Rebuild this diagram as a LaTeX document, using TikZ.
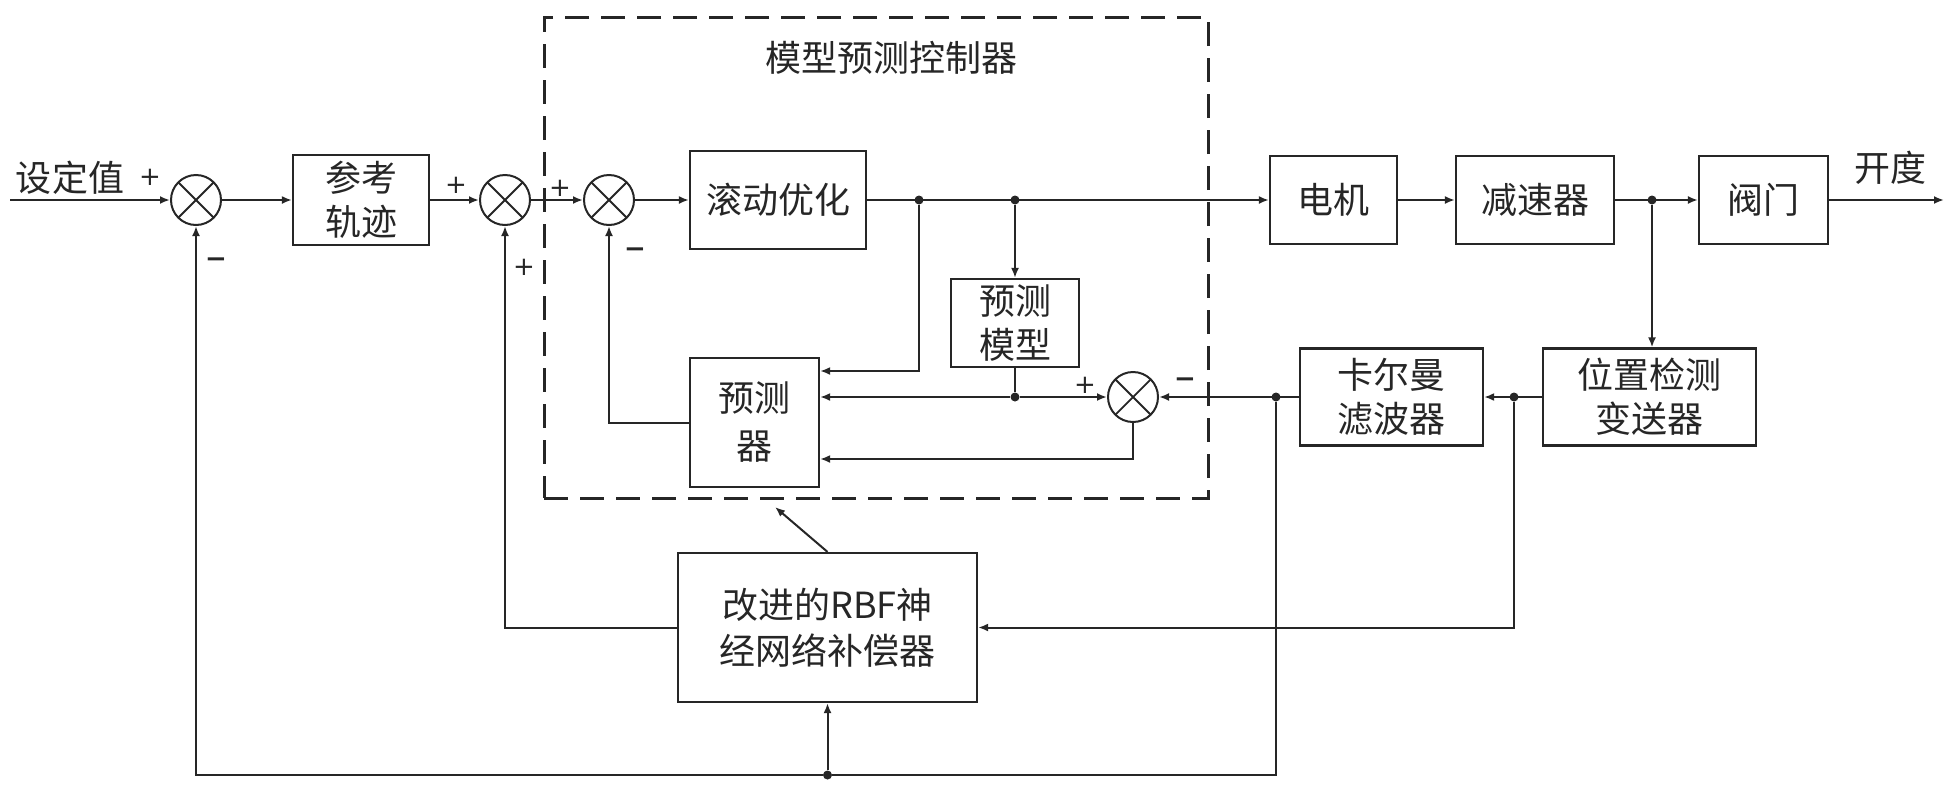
\documentclass[tikz,border=0pt]{standalone}
\usepackage{fontspec}
\setmainfont{Noto Sans CJK SC}
\newfontfamily\signfont{DejaVu Sans}
\usetikzlibrary{arrows.meta}
\definecolor{ink}{HTML}{262626}
\begin{document}
\begin{tikzpicture}[x=0.5pt,y=-0.5pt,
  every node/.style={text=ink},
  blk/.style={draw=ink, line width=1.1pt, align=center, inner sep=0pt,
    font=\fontsize{18}{22}\selectfont},
  sumc/.style={circle, draw=ink, line width=1pt, minimum size=25pt, inner sep=0pt,
    path picture={\draw[ink, line width=0.9pt]
      (path picture bounding box.north west) -- (path picture bounding box.south east)
      (path picture bounding box.north east) -- (path picture bounding box.south west);}},
  dot/.style={circle, fill=ink, minimum size=4.5pt, inner sep=0pt},
  arr/.style={draw=ink, line width=1pt, -{Latex[length=5pt,width=4pt]}},
  ln/.style={draw=ink, line width=1pt},
  sign/.style={font=\signfont\fontsize{13}{13}\selectfont, inner sep=0pt},
  lbl/.style={font=\fontsize{18}{22}\selectfont, inner sep=0pt},
  mpcbox/.style={draw=ink, line width=1.5pt, dash pattern=on 12pt off 6pt, inner sep=0pt}
]
\useasboundingbox (0,0) rectangle (1958,793);

% dashed MPC box
\node[mpcbox, minimum width=332pt, minimum height=240.5pt] (mpc) at (876,257.5) {};
\node[lbl] (mpct) at (891,58) {模型预测控制器};

% blocks
\node[blk, minimum width=68pt, minimum height=45pt] (ref) at (361,200) {参考\\轨迹};
\node[blk, minimum width=88pt, minimum height=49pt] (roll) at (778,200) {滚动优化};
\node[blk, minimum width=64pt, minimum height=44pt] (pm) at (1015,323) {预测\\模型};
\node[blk, minimum width=64.5pt, minimum height=64.5pt, font=\fontsize{18}{24}\selectfont] (pred) at (754.5,422.5) {预测\\器};
\node[blk, minimum width=63.5pt, minimum height=44pt] (motor) at (1333.5,200) {电机};
\node[blk, minimum width=79pt, minimum height=44pt] (red) at (1535,200) {减速器};
\node[blk, minimum width=64.5pt, minimum height=44pt] (valve) at (1763.5,200) {阀门};
\node[blk, minimum width=106.5pt, minimum height=48.5pt] (pos) at (1649.5,397) {位置检测\\变送器};
\node[blk, minimum width=91.5pt, minimum height=48.5pt] (kal) at (1391.5,397) {卡尔曼\\滤波器};
\node[blk, minimum width=149.5pt, minimum height=74.5pt, font=\fontsize{18}{23}\selectfont] (rbf) at (827.5,627.5) {改进的RBF神\\经网络补偿器};

% summing junctions
\node[sumc] (s1) at (196,200) {};
\node[sumc] (s2) at (505,200) {};
\node[sumc] (s3) at (609,200) {};
\node[sumc] (s4) at (1133,397) {};

% dots
\node[dot] (d1) at (919,200) {};
\node[dot] (d2) at (1015,200) {};
\node[dot] (d3) at (1015,397) {};
\node[dot] (d4) at (1652,200) {};
\node[dot] (d5) at (1514,397) {};
\node[dot] (d6) at (1276,397) {};
\node[dot] (bot) at (827.5,775) {};

% free ends
\coordinate (in) at (10,200);
\coordinate (out) at (1944,200);
\coordinate (k1) at (919,371);
\coordinate (k2) at (1133,459);
\coordinate (mpcin) at (775,507);

% labels
\node[lbl] (setv) at (70,178) {设定值};
\node[lbl] (opn) at (1890,168) {开度};
\node[sign] (p1) at (150,177) {+};
\node[sign, font=\signfont\bfseries\fontsize{13}{13}\selectfont] (m1) at (216,263) {−};
\node[sign] (p2) at (456,185) {+};
\node[sign] (p3) at (524,267) {+};
\node[sign] (p4) at (560,188) {+};
\node[sign, font=\signfont\bfseries\fontsize{13}{13}\selectfont] (m3) at (635,253) {−};
\node[sign] (p5) at (1085,385) {+};
\node[sign, font=\signfont\bfseries\fontsize{13}{13}\selectfont] (m4) at (1185,383) {−};

% connectors
\draw[arr] (in) -- (s1.west);
\draw[arr] (s1.east) -- (ref.west);
\draw[arr] (ref.east) -- (s2.west);
\draw[arr] (s2.east) -- (s3.west);
\draw[arr] (s3.east) -- (roll.west);
\draw[arr] (roll.east) -- (motor.west);
\draw[arr] (d2) -- (pm.north);
\draw[arr] (d1) -- (k1) -- (k1 -| pred.east);
\draw[ln] (pm.south) -- (d3);
\draw[arr] (d3) -- (d3 -| pred.east);
\draw[arr] (d3) -- (s4.west);
\draw[arr] (s4.south) -- (k2) -- (k2 -| pred.east);
\draw[arr] (pred.west) -| (s3.south);
\draw[arr] (motor.east) -- (red.west);
\draw[arr] (red.east) -- (valve.west);
\draw[arr] (valve.east) -- (out);
\draw[arr] (d4) -- (d4 |- pos.north);
\draw[arr] (pos.west) -- (kal.east);
\draw[arr] (kal.west) -- (s4.east);
\draw[arr] (d5) |- (rbf.east);
\draw[arr] (rbf.west) -| (s2.south);
\draw[arr] (d6) |- (bot) -| (s1.south);
\draw[arr] (bot) -- (rbf.south);
\draw[arr] (rbf.north) -- (mpcin);
\end{tikzpicture}
\end{document}
